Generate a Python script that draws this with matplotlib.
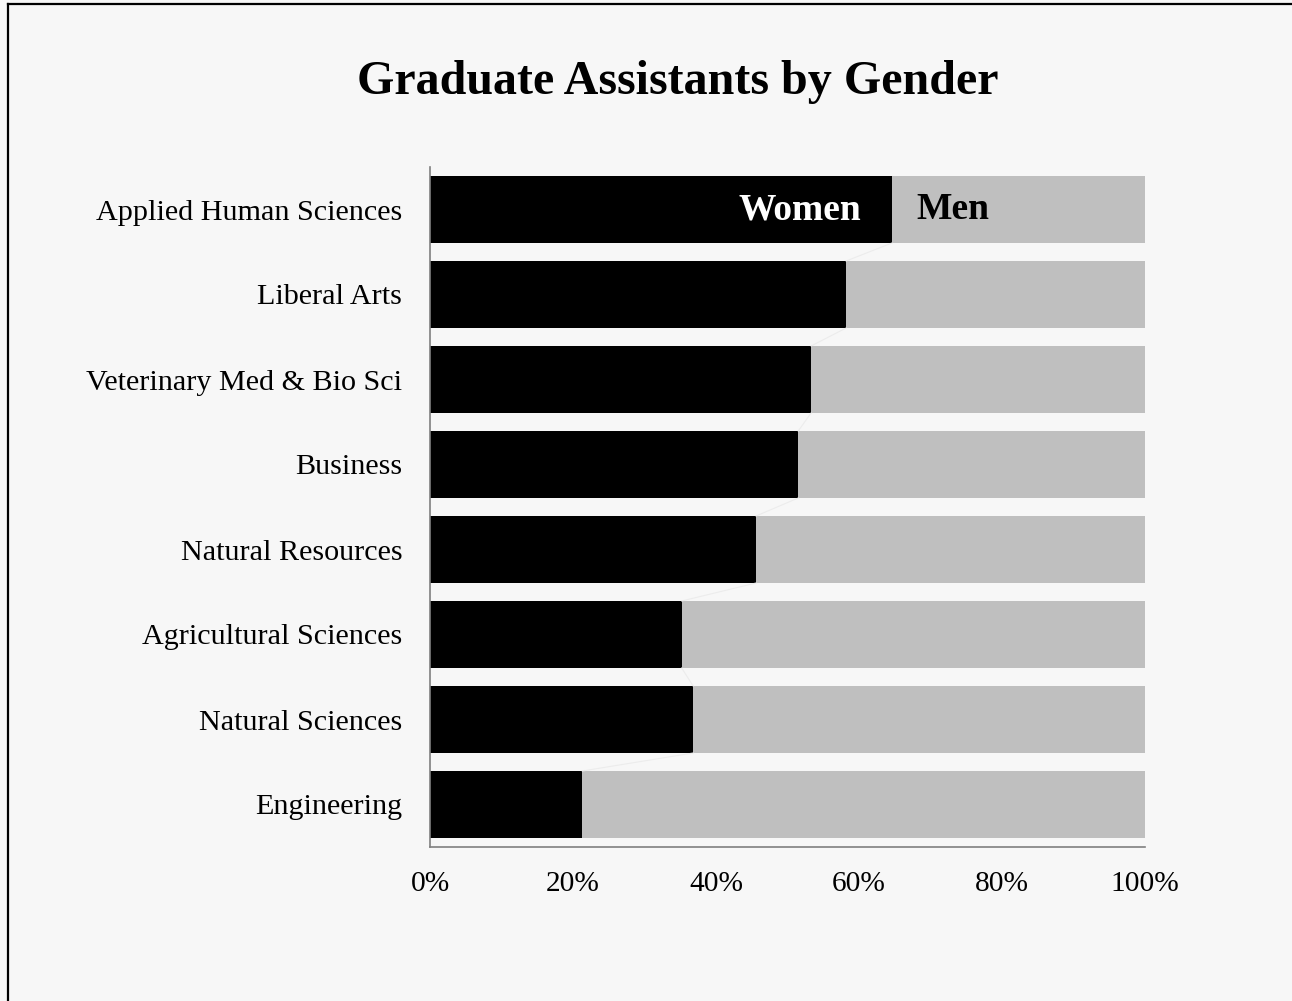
import matplotlib
matplotlib.use('Agg')
import matplotlib.pyplot as plt
from matplotlib.lines import Line2D
import numpy as np

# 数据（从上到下）
categories = ['Applied Human Sciences', 'Liberal Arts', 'Veterinary Med & Bio Sci',
              'Business', 'Natural Resources', 'Agricultural Sciences',
              'Natural Sciences', 'Engineering']
women = [64.6, 58.2, 53.3, 51.5, 45.6, 35.2, 36.8, 21.3]
men = [100 - w for w in women]
x_ticks = [0, 20, 40, 60, 80, 100]
x_labels = ['0%', '20%', '40%', '60%', '80%', '100%']

plt.rcParams['font.family'] = ['Liberation Serif', 'DejaVu Serif']

bg = '#f7f7f7'
fig = plt.figure(figsize=(12.92, 10.01), dpi=100)
fig.set_facecolor(bg)

# 外边框（只见左、上两边）
fig.add_artist(Line2D([8 / 1292, 8 / 1292], [0, 1 - 3.5 / 1001], transform=fig.transFigure,
                      color='black', linewidth=1.6))
fig.add_artist(Line2D([8 / 1292, 1], [1 - 3.5 / 1001, 1 - 3.5 / 1001], transform=fig.transFigure,
                      color='black', linewidth=1.6))

ax = fig.add_axes([430 / 1292, 154 / 1001, 715 / 1292, 680 / 1001])
ax.set_facecolor(bg)

y = np.arange(len(categories))
h = 67 / 85
ax.barh(y, women, height=h, color='black')
ax.barh(y, men, left=women, height=h, color='#bfbfbf')

# 系列线
for i in range(len(categories) - 1):
    ax.plot([women[i], women[i + 1]], [i + h / 2, i + 1 - h / 2], color='#ececec', linewidth=0.8)

ax.set_ylim(len(categories) - 0.5, -0.5)
ax.set_xlim(0, 100)
ax.set_yticks(y)
ax.set_yticklabels(categories, fontsize=21.7)
ax.set_xticks(x_ticks)
ax.set_xticklabels(x_labels, fontsize=21.2)
ax.tick_params(axis='y', length=0, pad=20)
ax.tick_params(axis='x', length=0, pad=17)
for s in ['top', 'right']:
    ax.spines[s].set_visible(False)
for s in ['left', 'bottom']:
    ax.spines[s].set_color('#808080')
    ax.spines[s].set_linewidth(1.2)

ax.text(51.7, 0, 'Women', color='white', fontsize=27, fontweight='bold', ha='center', va='center')
ax.text(73.1, 0, 'Men', color='black', fontsize=27, fontweight='bold', ha='center', va='center')

fig.text(677.5 / 1292, 1 - 82 / 1001, 'Graduate Assistants by Gender', fontsize=34.6,
         fontweight='bold', ha='center', va='center')

plt.savefig('out.png', dpi=100, facecolor=bg)
